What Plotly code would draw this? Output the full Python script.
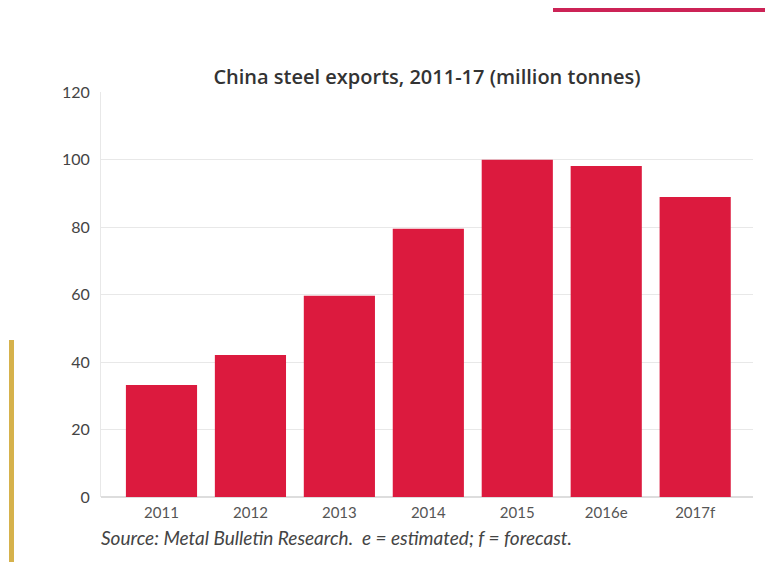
import plotly.graph_objects as go

categories = ["2011", "2012", "2013", "2014", "2015", "2016e", "2017f"]
exports = [33.2, 42.1, 59.6, 79.5, 99.9, 98.1, 88.9]
y_ticks = [0, 20, 40, 60, 80, 100, 120]

# page body has an 8px margin, so figure is 765x554 placed at (8, 8)
W, H = 765, 554
ML, MR, MT, MB = 93, 20, 84, 65
PW, PH = W - ML - MR, H - MT - MB


def px_x(x):
    return (x - ML) / PW


def px_y(y):
    return 1 - (y - MT) / PH


fig = go.Figure()
fig.add_trace(go.Bar(
    x=categories, y=exports,
    marker=dict(color="#dc1a3e", line=dict(width=0)),
    hoverinfo="x+y",
))

fig.update_layout(
    width=W, height=H, autosize=False,
    paper_bgcolor="white", plot_bgcolor="white",
    margin=dict(l=ML, r=MR, t=MT, b=MB),
    bargap=0.2,
    showlegend=False,
    font=dict(family="Lato, Open Sans, sans-serif", color="#444444"),
    title=dict(
        text="China steel exports, 2011-17 (million tonnes)",
        x=419 / W, xanchor="center", y=1 - 69 / H, yanchor="middle",
        font=dict(size=20, color="#333333", family="Open Sans, Lato, sans-serif", weight=600),
    ),
    xaxis=dict(
        range=[-0.68, 6.65], showgrid=False, showline=False, ticks="",
        tickfont=dict(size=15, color="#555555"), ticklabelstandoff=5,
    ),
    yaxis=dict(
        range=[0, 120], tickvals=y_ticks, showgrid=True, gridcolor="#e8e8e8",
        gridwidth=1, zeroline=True, zerolinecolor="#dddddd",
        showline=True, linecolor="#e8e8e8", ticks="",
        tickfont=dict(size=16, color="#444444"), ticklabelstandoff=7,
    ),
    shapes=[
        dict(type="line", xref="paper", yref="paper",
             x0=px_x(545), x1=px_x(W + 8), y0=px_y(2), y1=px_y(2),
             line=dict(color="#cc2356", width=4)),
        dict(type="line", xref="paper", yref="paper",
             x0=px_x(3.5), x1=px_x(3.5), y0=px_y(332), y1=px_y(H + 8),
             line=dict(color="#d6b24c", width=5)),
    ],
    annotations=[
        dict(text="<i>Source: Metal Bulletin Research.  e = estimated; f = forecast.</i>",
             xref="paper", yref="paper",
             x=px_x(91), xanchor="left", y=px_y(529), yanchor="middle",
             showarrow=False, font=dict(size=19, color="#444444")),
    ],
)

fig.write_html("out.html")
